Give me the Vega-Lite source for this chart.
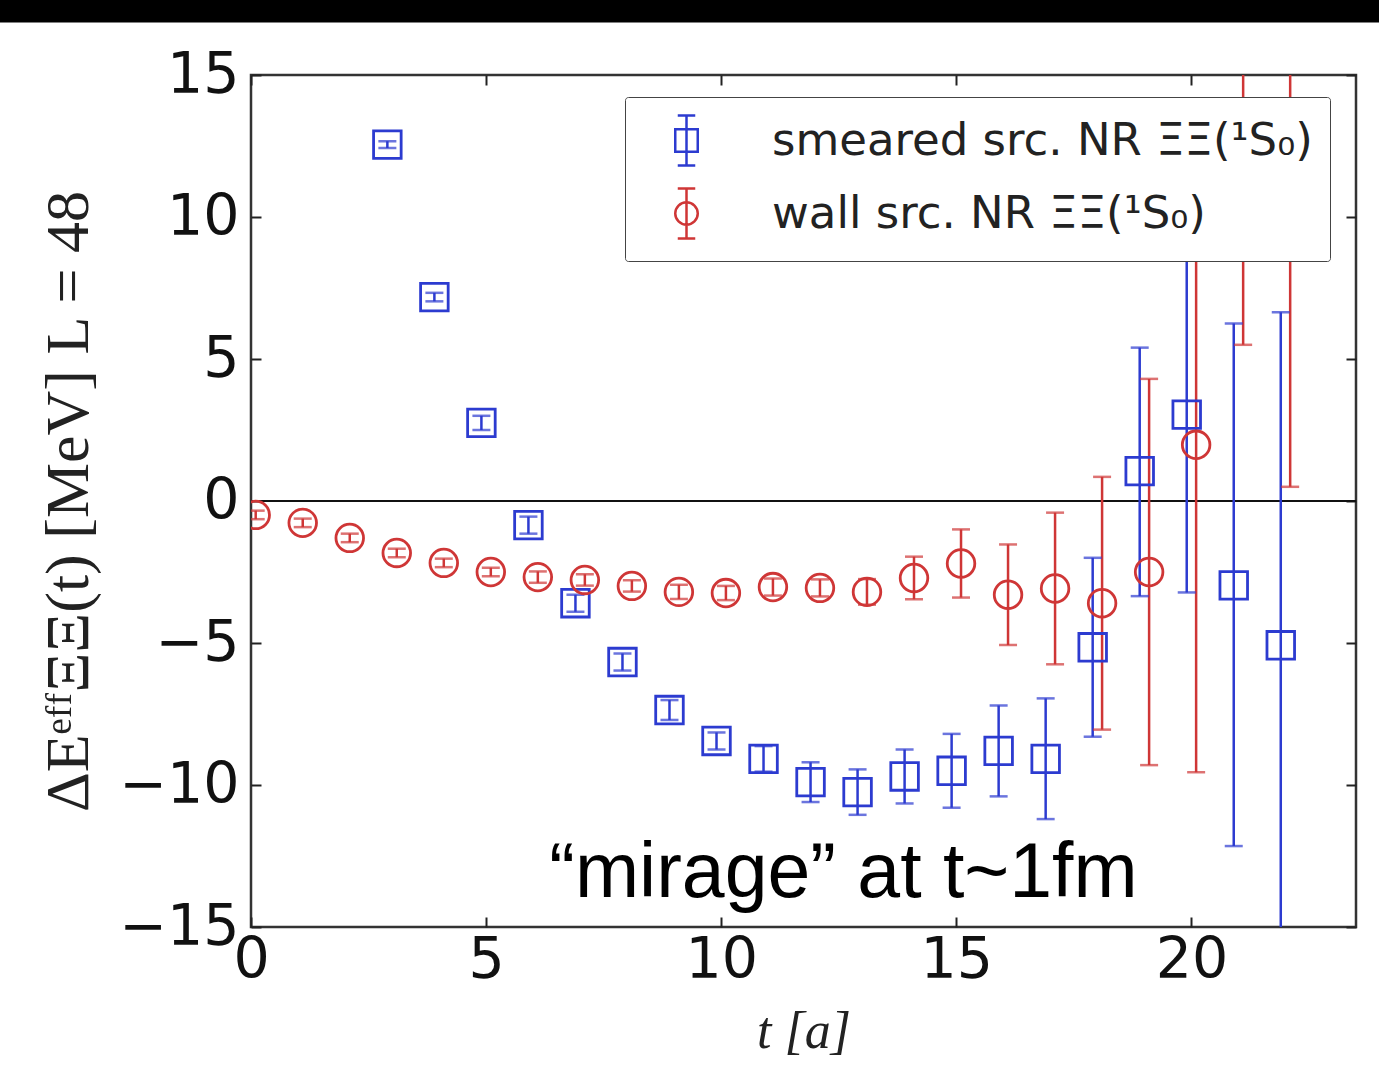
{
  "$schema": "https://vega.github.io/schema/vega-lite/v6.json",
  "width": 1105,
  "height": 852,
  "autosize": "none",
  "padding": {"left": 251, "top": 75, "right": 23, "bottom": 159},
  "background": "white",
  "config": {
    "view": {"stroke": "#333333", "strokeWidth": 2.5},
    "font": "DejaVu Sans"
  },
  "data": {
    "values": [
      {"series": "smeared src. NR ΞΞ(¹S₀)", "t": 2.9, "y": 12.55, "lo": 12.43, "hi": 12.67},
      {"series": "smeared src. NR ΞΞ(¹S₀)", "t": 3.9, "y": 7.18, "lo": 7.03, "hi": 7.33},
      {"series": "smeared src. NR ΞΞ(¹S₀)", "t": 4.9, "y": 2.75, "lo": 2.5, "hi": 3.0},
      {"series": "smeared src. NR ΞΞ(¹S₀)", "t": 5.9, "y": -0.85, "lo": -1.15, "hi": -0.55},
      {"series": "smeared src. NR ΞΞ(¹S₀)", "t": 6.9, "y": -3.6, "lo": -3.9, "hi": -3.3},
      {"series": "smeared src. NR ΞΞ(¹S₀)", "t": 7.9, "y": -5.67, "lo": -5.97, "hi": -5.37},
      {"series": "smeared src. NR ΞΞ(¹S₀)", "t": 8.9, "y": -7.36, "lo": -7.71, "hi": -7.01},
      {"series": "smeared src. NR ΞΞ(¹S₀)", "t": 9.9, "y": -8.45, "lo": -8.75, "hi": -8.15},
      {"series": "smeared src. NR ΞΞ(¹S₀)", "t": 10.9, "y": -9.08, "lo": -9.53, "hi": -8.63},
      {"series": "smeared src. NR ΞΞ(¹S₀)", "t": 11.9, "y": -9.9, "lo": -10.6, "hi": -9.2},
      {"series": "smeared src. NR ΞΞ(¹S₀)", "t": 12.9, "y": -10.25, "lo": -11.05, "hi": -9.45},
      {"series": "smeared src. NR ΞΞ(¹S₀)", "t": 13.9, "y": -9.7, "lo": -10.65, "hi": -8.75},
      {"series": "smeared src. NR ΞΞ(¹S₀)", "t": 14.9, "y": -9.5, "lo": -10.8, "hi": -8.2},
      {"series": "smeared src. NR ΞΞ(¹S₀)", "t": 15.9, "y": -8.8, "lo": -10.4, "hi": -7.2},
      {"series": "smeared src. NR ΞΞ(¹S₀)", "t": 16.9, "y": -9.08, "lo": -11.2, "hi": -6.95},
      {"series": "smeared src. NR ΞΞ(¹S₀)", "t": 17.9, "y": -5.15, "lo": -8.3, "hi": -2.0},
      {"series": "smeared src. NR ΞΞ(¹S₀)", "t": 18.9, "y": 1.05, "lo": -3.35, "hi": 5.4},
      {"series": "smeared src. NR ΞΞ(¹S₀)", "t": 19.9, "y": 3.04, "lo": -3.22, "hi": 9.3},
      {"series": "smeared src. NR ΞΞ(¹S₀)", "t": 20.9, "y": -2.97, "lo": -12.15, "hi": 6.25},
      {"series": "smeared src. NR ΞΞ(¹S₀)", "t": 21.9, "y": -5.08, "lo": -16.8, "hi": 6.65},
      {"series": "wall src. NR ΞΞ(¹S₀)", "t": 0.1, "y": -0.49, "lo": -0.64, "hi": -0.34},
      {"series": "wall src. NR ΞΞ(¹S₀)", "t": 1.1, "y": -0.77, "lo": -0.92, "hi": -0.62},
      {"series": "wall src. NR ΞΞ(¹S₀)", "t": 2.1, "y": -1.3, "lo": -1.45, "hi": -1.15},
      {"series": "wall src. NR ΞΞ(¹S₀)", "t": 3.1, "y": -1.83, "lo": -1.98, "hi": -1.68},
      {"series": "wall src. NR ΞΞ(¹S₀)", "t": 4.1, "y": -2.18, "lo": -2.33, "hi": -2.03},
      {"series": "wall src. NR ΞΞ(¹S₀)", "t": 5.1, "y": -2.5, "lo": -2.65, "hi": -2.35},
      {"series": "wall src. NR ΞΞ(¹S₀)", "t": 6.1, "y": -2.68, "lo": -2.88, "hi": -2.48},
      {"series": "wall src. NR ΞΞ(¹S₀)", "t": 7.1, "y": -2.78, "lo": -2.98, "hi": -2.58},
      {"series": "wall src. NR ΞΞ(¹S₀)", "t": 8.1, "y": -2.99, "lo": -3.19, "hi": -2.79},
      {"series": "wall src. NR ΞΞ(¹S₀)", "t": 9.1, "y": -3.2, "lo": -3.45, "hi": -2.95},
      {"series": "wall src. NR ΞΞ(¹S₀)", "t": 10.1, "y": -3.24, "lo": -3.49, "hi": -2.99},
      {"series": "wall src. NR ΞΞ(¹S₀)", "t": 11.1, "y": -3.03, "lo": -3.33, "hi": -2.73},
      {"series": "wall src. NR ΞΞ(¹S₀)", "t": 12.1, "y": -3.06, "lo": -3.36, "hi": -2.76},
      {"series": "wall src. NR ΞΞ(¹S₀)", "t": 13.1, "y": -3.2, "lo": -3.65, "hi": -2.75},
      {"series": "wall src. NR ΞΞ(¹S₀)", "t": 14.1, "y": -2.71, "lo": -3.46, "hi": -1.96},
      {"series": "wall src. NR ΞΞ(¹S₀)", "t": 15.1, "y": -2.2, "lo": -3.4, "hi": -1.0},
      {"series": "wall src. NR ΞΞ(¹S₀)", "t": 16.1, "y": -3.3, "lo": -5.07, "hi": -1.53},
      {"series": "wall src. NR ΞΞ(¹S₀)", "t": 17.1, "y": -3.08, "lo": -5.75, "hi": -0.41},
      {"series": "wall src. NR ΞΞ(¹S₀)", "t": 18.1, "y": -3.6, "lo": -8.05, "hi": 0.85},
      {"series": "wall src. NR ΞΞ(¹S₀)", "t": 19.1, "y": -2.5, "lo": -9.3, "hi": 4.3},
      {"series": "wall src. NR ΞΞ(¹S₀)", "t": 20.1, "y": 1.98, "lo": -9.55, "hi": 13.5},
      {"series": "wall src. NR ΞΞ(¹S₀)", "t": 21.1, "y": 17.5, "lo": 5.5, "hi": 29.5},
      {"series": "wall src. NR ΞΞ(¹S₀)", "t": 22.1, "y": 16.5, "lo": 0.5, "hi": 32.5}
    ]
  },
  "resolve": {"scale": {"x": "independent", "y": "independent"}},
  "layer": [
    {
      "layer": [
        {
          "data": {"values": [{}]},
          "mark": {"type": "rect", "color": "black", "clip": false},
          "encoding": {
            "x": {"datum": -5.4, "type": "quantitative", "scale": {"domain": [0, 23.5], "nice": false, "zero": false}},
            "x2": {"datum": 24},
            "y": {"datum": 17.8, "type": "quantitative", "scale": {"domain": [-15, 15], "nice": false, "zero": false}},
            "y2": {"datum": 16.85}
          }
        },
        {
          "data": {"values": [{}]},
          "mark": {"type": "rule", "color": "#111111", "strokeWidth": 2},
          "encoding": {
            "y": {"datum": 0, "type": "quantitative", "scale": {"domain": [-15, 15], "nice": false, "zero": false}}
          }
        },
        {
          "mark": {"type": "rule", "strokeWidth": 2.5, "clip": true},
          "encoding": {
            "x": {"field": "t", "type": "quantitative", "scale": {"domain": [0, 23.5], "nice": false, "zero": false}},
            "y": {"field": "lo", "type": "quantitative", "scale": {"domain": [-15, 15], "nice": false, "zero": false}},
            "y2": {"field": "hi"},
            "color": {"condition": {"test": "datum.series === 'smeared src. NR ΞΞ(¹S₀)'", "value": "#2c3bd0"}, "value": "#cf3636"}
          }
        },
        {
          "mark": {"type": "tick", "orient": "horizontal", "size": 18, "thickness": 2.5, "clip": true},
          "encoding": {
            "x": {"field": "t", "type": "quantitative", "scale": {"domain": [0, 23.5], "nice": false, "zero": false}},
            "y": {"field": "lo", "type": "quantitative", "scale": {"domain": [-15, 15], "nice": false, "zero": false}},
            "color": {"condition": {"test": "datum.series === 'smeared src. NR ΞΞ(¹S₀)'", "value": "#2c3bd0"}, "value": "#cf3636"}
          }
        },
        {
          "mark": {"type": "tick", "orient": "horizontal", "size": 18, "thickness": 2.5, "clip": true},
          "encoding": {
            "x": {"field": "t", "type": "quantitative", "scale": {"domain": [0, 23.5], "nice": false, "zero": false}},
            "y": {"field": "hi", "type": "quantitative", "scale": {"domain": [-15, 15], "nice": false, "zero": false}},
            "color": {"condition": {"test": "datum.series === 'smeared src. NR ΞΞ(¹S₀)'", "value": "#2c3bd0"}, "value": "#cf3636"}
          }
        },
        {
          "mark": {"type": "point", "filled": false, "opacity": 1, "strokeWidth": 2.8, "size": 760, "clip": true},
          "encoding": {
            "x": {
              "field": "t", "type": "quantitative",
              "scale": {"domain": [0, 23.5], "nice": false, "zero": false},
              "axis": {
                "values": [0, 5, 10, 15, 20],
                "tickSize": -10, "tickWidth": 2, "tickColor": "#222222",
                "labelPadding": 15, "labelFontSize": 57, "labelFont": "DejaVu Sans", "labelColor": "#111111",
                "labelFlush": false, "labelOverlap": false,
                "domain": false, "grid": false,
                "title": "t [a]", "titleFont": "Liberation Serif", "titleFontStyle": "italic",
                "titleFontWeight": "normal", "titleFontSize": 52, "titlePadding": 18, "titleColor": "#222222"
              }
            },
            "y": {
              "field": "y", "type": "quantitative",
              "scale": {"domain": [-15, 15], "nice": false, "zero": false},
              "axis": {
                "values": [-15, -10, -5, 0, 5, 10, 15],
                "tickSize": -10, "tickWidth": 2, "tickColor": "#222222",
                "labelPadding": 22, "labelFontSize": 57, "labelFont": "DejaVu Sans", "labelColor": "#111111",
                "labelFlush": false, "labelOverlap": false,
                "domain": false, "grid": false,
                "title": "ΔEᵉᶠᶠΞΞ(t) [MeV]   L = 48", "titleFont": "Liberation Serif",
                "titleFontWeight": "normal", "titleFontSize": 62, "titlePadding": 18, "titleColor": "#222222"
              }
            },
            "shape": {"condition": {"test": "datum.series === 'smeared src. NR ΞΞ(¹S₀)'", "value": "square"}, "value": "circle"},
            "color": {"condition": {"test": "datum.series === 'smeared src. NR ΞΞ(¹S₀)'", "value": "#2c3bd0"}, "value": "#cf3636"}
          }
        },
        {
          "mark": {"type": "point", "filled": false, "opacity": 0},
          "encoding": {
            "shape": {"field": "series", "type": "nominal",
              "scale": {"domain": ["smeared src. NR ΞΞ(¹S₀)", "wall src. NR ΞΞ(¹S₀)"],
                "range": ["M-0.45,-0.45H0.45V0.45H-0.45Z M0,-1V1 M-0.35,-1H0.35 M-0.35,1H0.35", "M-0.45,0A0.45,0.45 0 1,1 0.45,0A0.45,0.45 0 1,1 -0.45,0Z M0,-1V1 M-0.35,-1H0.35 M-0.35,1H0.35"]},
              "legend": {
                "title": null, "orient": "none", "legendX": 374, "legendY": 22,
                "padding": 17, "symbolOffset": 18, "labelOffset": 59, "rowPadding": 12,
                "symbolSize": 2500, "symbolStrokeWidth": 2.5, "symbolOpacity": 1,
                "labelFont": "DejaVu Sans", "labelFontSize": 45, "labelColor": "#222222", "labelLimit": 900,
                "fillColor": "white", "strokeColor": "#444444", "cornerRadius": 3
              }},
            "color": {"field": "series", "type": "nominal",
              "scale": {"domain": ["smeared src. NR ΞΞ(¹S₀)", "wall src. NR ΞΞ(¹S₀)"], "range": ["#2c3bd0", "#cf3636"]},
              "legend": {
                "title": null, "orient": "none", "legendX": 374, "legendY": 22,
                "padding": 17, "symbolOffset": 18, "labelOffset": 59, "rowPadding": 12,
                "symbolSize": 2500, "symbolStrokeWidth": 2.5, "symbolOpacity": 1,
                "labelFont": "DejaVu Sans", "labelFontSize": 45, "labelColor": "#222222", "labelLimit": 900,
                "fillColor": "white", "strokeColor": "#444444", "cornerRadius": 3
              }}
          }
        },
        {
          "data": {"values": [{}]},
          "mark": {"type": "text", "font": "Liberation Sans", "fontSize": 77, "align": "center", "baseline": "alphabetic", "color": "black"},
          "encoding": {
            "x": {"datum": 12.6, "type": "quantitative", "scale": {"domain": [0, 23.5], "nice": false, "zero": false}},
            "y": {"datum": -13.95, "type": "quantitative", "scale": {"domain": [-15, 15], "nice": false, "zero": false}},
            "text": {"value": "“mirage” at t~1fm"}
          }
        }
      ]
    },
    {
      "data": {"values": [{}]},
      "mark": {"type": "point", "opacity": 0},
      "encoding": {
        "x": {"datum": 0, "type": "quantitative",
          "scale": {"domain": [0, 23.5], "nice": false, "zero": false},
          "axis": {"orient": "top", "values": [0, 5, 10, 15, 20], "labels": false, "tickSize": -10, "tickWidth": 2, "tickColor": "#222222", "domain": false, "grid": false, "title": null}},
        "y": {"datum": 0, "type": "quantitative",
          "scale": {"domain": [-15, 15], "nice": false, "zero": false},
          "axis": {"orient": "right", "values": [-15, -10, -5, 0, 5, 10, 15], "labels": false, "tickSize": -10, "tickWidth": 2, "tickColor": "#222222", "domain": false, "grid": false, "title": null}}
      }
    }
  ]
}
